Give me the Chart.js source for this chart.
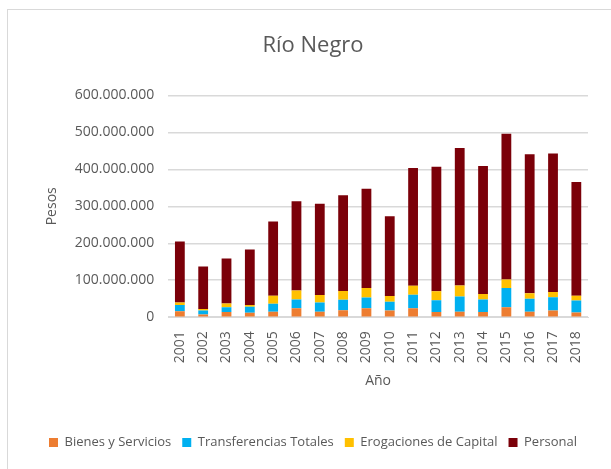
<!DOCTYPE html>
<html>
<head>
<meta charset="utf-8">
<script src="https://cdn.jsdelivr.net/npm/chart.js@4/dist/chart.umd.min.js"></script>
<style>
    body { margin: 0; background: #fff; }
    .wrap { position: relative; width: 611px; height: 469px; overflow: hidden; }
    .frame { position: absolute; left: 7px; top: 9px; width: 700px; height: 600px; border: 1px solid #d9d9d9; box-sizing: border-box; }
    #chart { position: absolute; left: 0; top: 0; }
</style>
</head>
<body>
<div class="wrap">
    <div class="frame"></div>
    <canvas id="chart" width="611" height="469"></canvas>
</div>
<script>
// Data
const years = ['2001', '2002', '2003', '2004', '2005', '2006', '2007', '2008', '2009',
               '2010', '2011', '2012', '2013', '2014', '2015', '2016', '2017', '2018'];
const bienesServicios = [16000000, 7000000, 14000000, 12000000, 15000000, 24000000, 15000000, 19000000, 24000000,
                         18000000, 24000000, 14000000, 15000000, 14000000, 27000000, 15000000, 18000000, 13000000];
const transferencias = [17000000, 11000000, 13000000, 16000000, 21000000, 24000000, 25000000, 28000000, 29000000,
                        24000000, 37000000, 32000000, 41000000, 34000000, 52000000, 35000000, 36000000, 32000000];
const erogacionesCapital = [7000000, 4000000, 10000000, 5000000, 22000000, 24000000, 20000000, 24000000, 26000000,
                            15000000, 24000000, 24000000, 30000000, 15000000, 23000000, 15000000, 14000000, 13000000];
const personal = [164500000, 115000000, 121600000, 150000000, 200600000, 241500000, 247000000, 258700000, 268700000,
                  216000000, 318600000, 337000000, 371700000, 346000000, 394400000, 375500000, 375000000, 307800000];
const yTicks = [0, 100000000, 200000000, 300000000, 400000000, 500000000, 600000000];

const textColor = '#595959';
const fontFamily = '"Open Sans", sans-serif';

const formatPesos = v => String(v).replace(/\B(?=(\d{3})+(?!\d))/g, '.');

const ctx = document.getElementById('chart');
new Chart(ctx, {
    type: 'bar',
    data: {
        labels: years,
        datasets: [
            { label: 'Bienes y Servicios', data: bienesServicios, backgroundColor: '#ED7D31' },
            { label: 'Transferencias Totales', data: transferencias, backgroundColor: '#00B0F0' },
            { label: 'Erogaciones de Capital', data: erogacionesCapital, backgroundColor: '#FFC000' },
            { label: 'Personal', data: personal, backgroundColor: '#7B0009' }
        ]
    },
    options: {
        responsive: false,
        animation: false,
        layout: { padding: { left: 38, right: 23, top: 20, bottom: 10 } },
        datasets: {
            bar: { barPercentage: 0.42, categoryPercentage: 1, borderWidth: 0 }
        },
        plugins: {
            title: {
                display: true,
                text: 'Río Negro',
                color: textColor,
                font: { family: fontFamily, size: 22, weight: 'normal' },
                padding: { top: 13, bottom: 36 }
            },
            legend: {
                position: 'bottom',
                align: 'start',
                labels: {
                    color: textColor,
                    font: { family: fontFamily, size: 13 },
                    boxWidth: 9,
                    boxHeight: 9,
                    padding: 11
                }
            },
            tooltip: { enabled: false }
        },
        scales: {
            x: {
                stacked: true,
                grid: { display: false },
                border: { color: '#d9d9d9', width: 1 },
                ticks: {
                    color: textColor,
                    font: { family: fontFamily, size: 14 },
                    minRotation: 90,
                    maxRotation: 90,
                    padding: 6
                },
                title: {
                    display: true,
                    text: 'Año',
                    color: textColor,
                    font: { family: fontFamily, size: 14 },
                    padding: { top: 3, bottom: 36 }
                }
            },
            y: {
                stacked: true,
                min: 0,
                max: 600000000,
                afterBuildTicks: axis => { axis.ticks = yTicks.map(v => ({ value: v })); },
                grid: { color: '#d9d9d9', lineWidth: 1.5, drawTicks: false },
                border: { display: false },
                ticks: {
                    color: textColor,
                    font: { family: fontFamily, size: 14 },
                    padding: 14,
                    callback: v => formatPesos(v)
                },
                title: {
                    display: true,
                    text: 'Pesos',
                    color: textColor,
                    font: { family: fontFamily, size: 14 },
                    padding: { top: 6, bottom: 0 }
                }
            }
        }
    }
});
</script>
</body>
</html>
